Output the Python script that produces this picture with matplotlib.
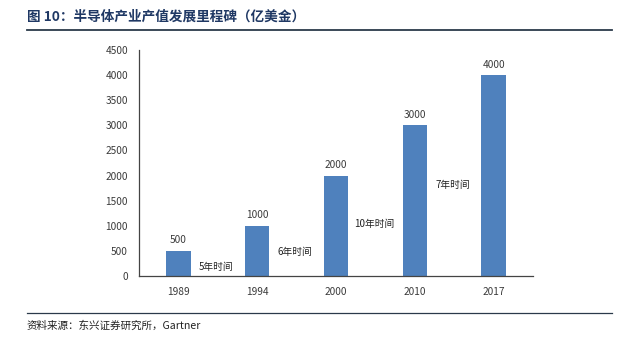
import matplotlib.pyplot as plt
from matplotlib.lines import Line2D

plt.rcParams['font.family'] = ['Noto Sans CJK SC', 'DejaVu Sans']

# data
years = ['1989', '1994', '2000', '2010', '2017']
values = [500, 1000, 2000, 3000, 4000]
gap_labels = ['5年时间', '6年时间', '10年时间', '7年时间']
gap_heights = [180, 480, 1030, 1810]

bar_color = '#4F81BD'
text_color = '#3A3A3A'

fig = plt.figure(figsize=(6.4, 3.43), dpi=100)
ax = fig.add_axes([139 / 640, 1 - 276 / 343, 394 / 640, 226 / 343])

x = range(len(years))
ax.bar(x, values, width=0.31, color=bar_color)

# value labels above bars
for xi, v in zip(x, values):
    ax.text(xi, v + 110, str(v), ha='center', va='bottom', fontsize=7.3, color=text_color)

# time between milestones, placed between bars
for i, (lab, h) in enumerate(zip(gap_labels, gap_heights)):
    ax.text(i + 0.48, h, lab, ha='center', va='center', fontsize=7, color='#222222')

ax.set_xlim(-0.5, 4.5)
ax.set_ylim(0, 4500)
ax.set_yticks(range(0, 4501, 500))
ax.set_xticks(list(x))
ax.set_xticklabels(years)
ax.tick_params(length=0, labelsize=7.3, colors=text_color)
ax.tick_params(axis='x', pad=8)
ax.tick_params(axis='y', pad=8)
for s in ['top', 'right']:
    ax.spines[s].set_visible(False)
for s in ['left', 'bottom']:
    ax.spines[s].set_color('#444444')
    ax.spines[s].set_linewidth(0.9)

# title and source with rules
fig.text(27 / 640, 1 - 17 / 343, '图 10：半导体产业产值发展里程碑（亿美金）',
         fontsize=9.8, fontweight='bold', color='#1F3864', va='center', ha='left')
fig.add_artist(Line2D([27 / 640, 612 / 640], [1 - 30 / 343, 1 - 30 / 343],
                      color='#2B3A4A', lw=1.3))
fig.add_artist(Line2D([27 / 640, 612 / 640], [1 - 313 / 343, 1 - 313 / 343],
                      color='#2B3A4A', lw=0.9))
fig.text(27 / 640, 1 - 326 / 343, '资料来源：东兴证券研究所，Gartner',
         fontsize=7.6, style='italic', color='#222222', va='center', ha='left')

fig.savefig('out.png', dpi=100)
